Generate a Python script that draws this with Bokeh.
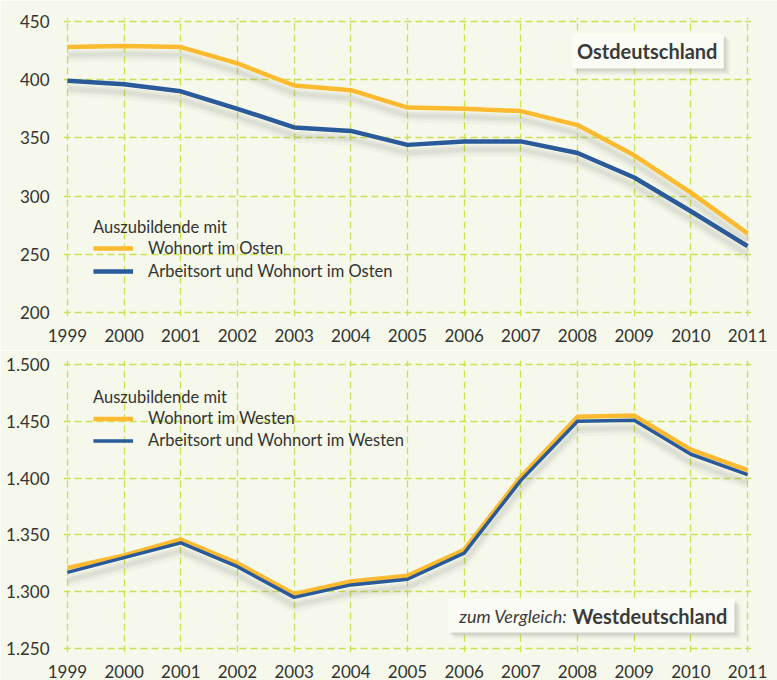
from bokeh.plotting import figure
from bokeh.layouts import column
from bokeh.models import (Legend, LegendItem, FixedTicker, BoxAnnotation, Label,
                          CustomJSTickFormatter)
from bokeh.embed import file_html
from bokeh.resources import INLINE

# ---- data ----
years = [1999, 2000, 2001, 2002, 2003, 2004, 2005, 2006, 2007, 2008, 2009, 2010, 2011]
ost_wohnort = [428, 429, 428, 414, 395, 391, 376, 375, 373, 361, 335, 303, 268]
ost_arbeit_wohn = [399, 396, 390, 375, 359, 356, 344, 347, 347, 337, 316, 287, 257]
west_wohnort = [1321, 1332, 1346, 1325, 1298, 1309, 1314, 1337, 1401, 1454, 1455, 1425, 1407]
west_arbeit_wohn = [1317, 1330, 1343, 1322, 1295, 1306, 1311, 1334, 1398, 1450, 1451, 1421, 1403]

ost_ticks = [200, 250, 300, 350, 400, 450]
west_ticks = [1250, 1300, 1350, 1400, 1450, 1500]

BG = "#F5F8EA"
GRID = "#CDE052"
ORANGE = "#FBBA30"
BLUE = "#2A5A9A"
TXT = "#333333"
FONT = "Lato"

W = 777


def base_fig(height, yr, yticks, border_top, border_bottom, fmt=None):
    p = figure(width=W, height=height, output_backend="svg", toolbar_location=None,
               x_range=(1998.93, 2011.07), y_range=yr,
               min_border_left=63, min_border_right=26,
               min_border_top=border_top, min_border_bottom=border_bottom,
               background_fill_color=BG, border_fill_color=BG)
    p.outline_line_color = None
    p.xaxis.ticker = FixedTicker(ticks=years)
    p.yaxis.ticker = FixedTicker(ticks=yticks)
    if fmt is not None:
        p.yaxis.formatter = fmt
    for ax in (p.xaxis, p.yaxis):
        ax.axis_line_color = None
        ax.major_tick_line_color = None
        ax.minor_tick_line_color = None
        ax.major_label_text_font = FONT
        ax.major_label_text_font_size = "17px"
        ax.major_label_text_color = TXT
    p.xaxis.major_label_standoff = 6
    p.yaxis.major_label_standoff = 8
    for g in (p.xgrid, p.ygrid):
        g.grid_line_color = GRID
        g.grid_line_dash = "7 4"
        g.grid_line_width = 1.3
    return p


def add_shadow(p, xs, ys, px_per_unit):
    for off, w, a in ((9, 12, 0.04), (8, 8, 0.05), (8, 4, 0.06)):
        p.line(xs, [v - off / px_per_unit for v in ys], line_color="#555555",
               line_width=w, line_alpha=a, line_join="round")


def add_box(p, left, right, bottom, top, ppx, ppy):
    for d, a in ((6, 0.07), (4, 0.09), (2, 0.11)):
        p.add_layout(BoxAnnotation(left=left + d / ppx, right=right + d / ppx,
                                   bottom=bottom - d / ppy, top=top - d / ppy,
                                   fill_color="#666666", fill_alpha=a, line_color=None,
                                   level="overlay"))
    p.add_layout(BoxAnnotation(left=left, right=right, bottom=bottom, top=top,
                               fill_color="#FBFCF6", fill_alpha=1.0, line_color=None,
                               level="overlay"))


def make_legend(items, loc, standoff, gh, sp):
    return Legend(items=items, location=loc, title="Auszubildende mit",
                  title_text_font=FONT, title_text_font_size="16.5px",
                  title_text_font_style="normal", title_text_color=TXT,
                  title_standoff=standoff,
                  label_text_font=FONT, label_text_font_size="16.5px", label_text_color=TXT,
                  glyph_width=40, glyph_height=gh, label_height=gh, label_standoff=15,
                  spacing=sp, padding=0, margin=0,
                  background_fill_alpha=0, border_line_color=None)


ppx = 680 / 12.0

# ---------------- top: Ostdeutschland ----------------
ppy1 = 291 / 250.0
p1 = base_fig(350, (196.6, 453.4), ost_ticks, 17, 34)
add_shadow(p1, years, ost_wohnort, ppy1)
add_shadow(p1, years, ost_arbeit_wohn, ppy1)
r1 = p1.line(years, ost_wohnort, line_color=ORANGE, line_width=4.5, line_join="round")
r2 = p1.line(years, ost_arbeit_wohn, line_color=BLUE, line_width=4.5, line_join="round")

add_box(p1, 2007.91, 2010.58, 409.6, 439.7, ppx, ppy1)
p1.add_layout(Label(x=2009.23, y=424.2, text="Ostdeutschland", text_font=FONT,
                    text_font_size="20px", text_font_style="bold", text_color="#3A3A3A",
                    text_align="center", text_baseline="middle", level="overlay"))

p1.add_layout(make_legend(
    [LegendItem(label="Wohnort im Osten", renderers=[r1]),
     LegendItem(label="Arbeitsort und Wohnort im Osten", renderers=[r2])],
    (30, 35), 1, 20, 3))

# ---------------- bottom: Westdeutschland ----------------
ppy2 = 285 / 250.0
fmt = CustomJSTickFormatter(code="""
    const s = Math.round(tick).toString();
    return s.length > 3 ? s.slice(0, s.length - 3) + '.' + s.slice(-3) : s;
""")
p2 = base_fig(330, (1246.5, 1503.5), west_ticks, 10, 27, fmt)
add_shadow(p2, years, west_arbeit_wohn, ppy2)
r3 = p2.line(years, west_wohnort, line_color=ORANGE, line_width=4.5, line_join="round")
r4 = p2.line(years, west_arbeit_wohn, line_color=BLUE, line_width=3.5, line_join="round")

add_box(p2, 2005.71, 2010.77, 1264.0, 1293.9, ppx, ppy2)
p2.add_layout(Label(x=2007.82, y=1278.2, text="zum Vergleich:", text_font=FONT,
                    text_font_size="18px", text_font_style="italic", text_color="#3A3A3A",
                    text_align="right", text_baseline="middle", level="overlay"))
p2.add_layout(Label(x=2007.91, y=1279.0, text="Westdeutschland", text_font=FONT,
                    text_font_size="20px", text_font_style="bold", text_color="#3A3A3A",
                    text_align="left", text_baseline="middle", level="overlay"))

p2.add_layout(make_legend(
    [LegendItem(label="Wohnort im Westen", renderers=[r3]),
     LegendItem(label="Arbeitsort und Wohnort im Westen", renderers=[r4])],
    (30, 202), 1, 19, 2))

layout = column(p1, p2, spacing=0)
open("out.html", "w").write(file_html(layout, INLINE))
